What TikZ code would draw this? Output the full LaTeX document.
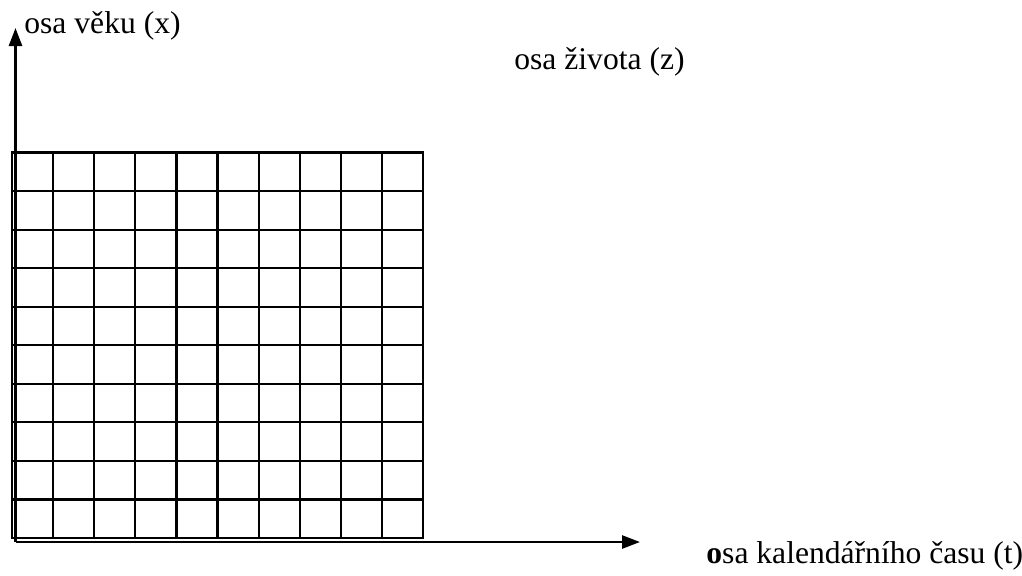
\documentclass[tikz,border=0pt]{standalone}
\usepackage{fontspec}
\setmainfont{Liberation Serif}
\usetikzlibrary{arrows.meta}

\begin{document}
\begin{tikzpicture}[x=0.5pt,y=-0.5pt,
every node/.style={font=\fontsize{15.8}{18}\selectfont,inner sep=0pt},
cell/.style={line width=1.1pt,line cap=rect},
axis/.style={line width=1.3pt,-{Triangle[length=9pt,width=6.5pt]}}]
\useasboundingbox (0,0) rectangle (1022,575);
% grid of cells
\foreach \i in {0,...,10} {
  \draw[cell] ({12+41.1*\i},152.5) -- ({12+41.1*\i},538);
  \draw[cell] (12,{152.5+38.55*\i}) -- (423,{152.5+38.55*\i});
}
% axes
\coordinate (origin) at (15.5,542);
\coordinate (agetip) at (15.5,28);
\coordinate (timetip) at (640,542);
\draw[axis] (origin) -- (agetip);
\draw[axis] (origin) -- (timetip);
% labels
\node[anchor=base west] (age) at (24,33) {osa věku (x)};
\node[anchor=base west] (life) at (514,69) {osa života (z)};
\node[anchor=base west] (time) at (706,563) {\textbf{o}sa kalendářního času (t)};
\end{tikzpicture}
\end{document}
